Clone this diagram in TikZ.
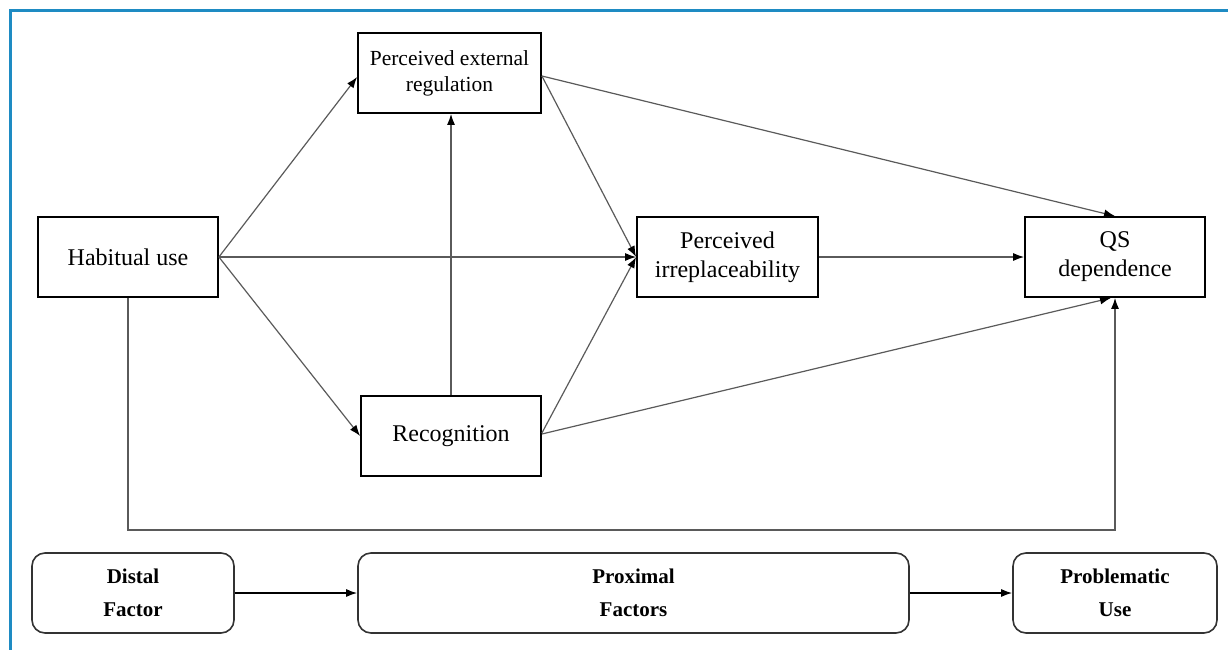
\documentclass[tikz,border=0pt]{standalone}
\usepackage{fontspec}
\setmainfont{Liberation Serif}
\usetikzlibrary{arrows.meta,calc}
\definecolor{frameblue}{HTML}{1E8BC3}
\definecolor{conn}{HTML}{5A5A5A}
\begin{document}
\begin{tikzpicture}[x=1pt,y=-1pt,
  box/.style={draw=black,line width=1.8pt,rectangle,inner sep=0pt,minimum width=180pt,minimum height=80pt,align=center,font=\fontsize{24}{29}\selectfont},
  rbox/.style={draw=black!80,line width=1.6pt,rectangle,rounded corners=13pt,inner sep=0pt,minimum height=80pt,align=center,font=\fontsize{21}{33}\selectfont\bfseries},
  link/.style={draw=conn,line width=1.2pt,-{Latex[length=11pt,width=8pt,black]}},
  blink/.style={draw=black,line width=1.5pt,-{Latex[length=11pt,width=8pt,black]}}]
\useasboundingbox (0,0) rectangle (1228,650);
% frame (top and left edges)
\draw[frameblue,line width=3pt] (10,650) -- (10,11) -- (1228,11);

\node[box] (hab) at (128,257) {Habitual use};
\node[box,minimum width=183pt,font=\fontsize{21.5}{26}\selectfont] (per) at (449.5,73) {Perceived external\\regulation};
\node[box] (rec) at (451,436) {Recognition};
\node[box,minimum width=181pt] (pi) at (727.5,257) {Perceived\\irreplaceability};
\node[box] (qs) at (1115,257) {QS\\dependence};

\coordinate (bot) at (0,530);

\draw[link] (hab.east) -- ($(per.west)+(0,4)$);
\draw[link] (hab.east) -- (rec.west);
\draw[link] (hab.east) -- (pi.west);
\draw[link] ($(per.east)+(0,3)$) -- (pi.west);
\draw[link] ($(rec.east)+(0,-3)$) -- (pi.west);
\draw[link] (rec.north) -- (rec.north |- per.south);
\draw[link] ($(per.east)+(0,3)$) -- (qs.north);
\draw[link] (pi.east) -- (qs.west);
\draw[link] ($(rec.east)+(0,-2)$) -- ($(qs.south)+(-4,0)$);
\draw[link] (hab.south) -- (hab.south |- bot) -| (qs.south);

\node[rbox,minimum width=202pt] (dis) at (133,593) {Distal\\Factor};
\node[rbox,minimum width=551pt] (pro) at (633.5,593) {Proximal\\Factors};
\node[rbox,minimum width=204pt] (prob) at (1115,593) {Problematic\\Use};
\draw[blink] (dis.east) -- (pro.west);
\draw[blink] (pro.east) -- (prob.west);
\end{tikzpicture}
\end{document}
